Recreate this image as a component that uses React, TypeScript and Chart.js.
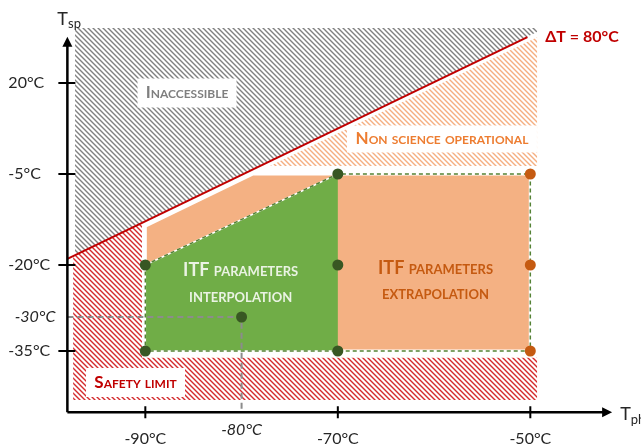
import { useEffect, useRef } from 'react';
import { Chart, registerables, LinearScale } from 'chart.js';

// ---------------- data (°C) ----------------
const X_TICKS = [-90, -70, -50];
const Y_TICKS = [20, -5, -20, -35];
const EXAMPLE_TICK_X = -80;
const EXAMPLE_TICK_Y = -30;

// operating points
const INTERP_PTS_X = [-90, -70, -70, -90, -70, -80];
const INTERP_PTS_Y = [-20, -5, -20, -35, -35, -30];
const EXTRAP_PTS_X = [-50, -50, -50];
const EXTRAP_PTS_Y = [-5, -20, -35];

// ΔT = 80°C limit line
const DT_LINE_X = [-98.1, -50.3];
const DT_LINE_Y = [-19.0, 32.6];

// regions
const INACCESSIBLE_X = [-97.3, -49.3, -49.3, -97.3];
const INACCESSIBLE_Y = [35.1, 35.1, 34.0, -18.4];
const SAFETY_X = [-97.5, -90.35, -90.35, -49.3, -49.3, -97.5];
const SAFETY_Y = [-18.5, -13.0, -36.0, -36.0, -42.2, -42.2];
const NON_SCIENCE_X = [-77.05, -49.3, -49.3];
const NON_SCIENCE_Y = [-2.8, 32.6, -2.8];
const EXTRAP_X = [-90, -78.8, -50, -50, -90];
const EXTRAP_Y = [-13.6, -5, -5, -35, -35];
const INTERP_X = [-90, -70, -70, -90];
const INTERP_Y = [-20, -5, -35, -35];
const ENVELOPE_X = [-90, -70, -50, -50, -90, -90];
const ENVELOPE_Y = [-20, -5, -5, -35, -35, -20];
const GUIDE_X = [-98.1, -80, -80];
const GUIDE_Y = [-30, -30, -44];

// axis extents
const AXIS_X_START = -98.1;
const AXIS_X_END = -41.5;
const AXIS_Y_START = -44;
const AXIS_Y_END = 32.7;

// ---------------- schematic (piecewise) y scale ----------------
const Y_BREAK_VALUES = [-50, -35, -30, -20, -5, 20, 45];
const Y_BREAK_FRAC = [453, 351, 317, 265, 174, 83, -8].map((p) => 1 - p / 446);

function toDecimal(v: number) {
  const V = Y_BREAK_VALUES, D = Y_BREAK_FRAC;
  let i = 0;
  while (i < V.length - 2 && v > V[i + 1]) i++;
  return D[i] + ((v - V[i]) / (V[i + 1] - V[i])) * (D[i + 1] - D[i]);
}
function fromDecimal(d: number) {
  const V = Y_BREAK_VALUES, D = Y_BREAK_FRAC;
  let i = 0;
  while (i < D.length - 2 && d > D[i + 1]) i++;
  return V[i] + ((d - D[i]) / (D[i + 1] - D[i])) * (V[i + 1] - V[i]);
}

class PiecewiseScale extends LinearScale {
  static id = 'piecewise';
  getPixelForValue(value: any) {
    if (value === null || value === undefined || isNaN(value)) return NaN;
    return this.getPixelForDecimal(toDecimal(+value));
  }
  getValueForPixel(pixel: number) {
    return fromDecimal(this.getDecimalForPixel(pixel));
  }
}

Chart.register(...registerables, PiecewiseScale as any);

const zip = (xs: number[], ys: number[]) => xs.map((x, i) => ({ x, y: ys[i] }));

function makeHatch(color: string) {
  const s = 5;
  const c = document.createElement('canvas');
  c.width = s;
  c.height = s;
  const g = c.getContext('2d')!;
  g.fillStyle = '#FFFFFF';
  g.fillRect(0, 0, s, s);
  g.strokeStyle = color;
  g.lineWidth = 1.4;
  g.beginPath();
  for (let k = -1; k <= 1; k++) {
    g.moveTo(-1, k * s - 1);
    g.lineTo(s + 1, s + k * s + 1);
  }
  g.stroke();
  return g.createPattern(c, 'repeat')!;
}

const FONT = 'Lato, "Open Sans", sans-serif';

export default function App() {
  const ref = useRef<HTMLCanvasElement | null>(null);

  useEffect(() => {
    const canvas = ref.current!;
    const grayHatch = makeHatch('#808080');
    const redHatch = makeHatch('#D42A2C');
    const orangeHatch = makeHatch('#F5AE80');

    const plugin = {
      id: 'schematic',
      beforeDatasetsDraw(chart: any) {
        const ctx = chart.ctx as CanvasRenderingContext2D;
        const xs = chart.scales.x, ys = chart.scales.y;
        const poly = (X: number[], Y: number[], fill: any, stroke?: string, lw?: number) => {
          ctx.beginPath();
          X.forEach((x, i) => {
            const px = xs.getPixelForValue(x), py = ys.getPixelForValue(Y[i]);
            if (i === 0) ctx.moveTo(px, py);
            else ctx.lineTo(px, py);
          });
          ctx.closePath();
          ctx.fillStyle = fill;
          ctx.fill();
          if (stroke) {
            ctx.strokeStyle = stroke;
            ctx.lineWidth = lw || 1;
            ctx.lineJoin = 'miter';
            ctx.stroke();
          }
        };
        ctx.save();
        poly(INACCESSIBLE_X, INACCESSIBLE_Y, grayHatch);
        poly(SAFETY_X, SAFETY_Y, redHatch);
        poly(NON_SCIENCE_X, NON_SCIENCE_Y, orangeHatch);
        poly(EXTRAP_X, EXTRAP_Y, '#F4B183', '#FFFFFF', 3);
        poly(INTERP_X, INTERP_Y, '#70AD47');
        ctx.restore();

        // boxed labels sit under the lines/points
        ctx.save();
        const box = (x: number, y: number, w: number, h: number) => {
          const px = xs.getPixelForValue(x), py = ys.getPixelForValue(y);
          ctx.fillStyle = '#FFFFFF';
          ctx.fillRect(px - w / 2, py - h / 2, w, h);
        };
        box(-85.67, 17.25, 99, 29);
        box(-59.18, 4.62, 190, 27);
        box(-91.02, -39.63, 99, 29);
        ctx.restore();
      },
      afterDatasetsDraw(chart: any) {
        const ctx = chart.ctx as CanvasRenderingContext2D & { fontVariantCaps?: string };
        const xs = chart.scales.x, ys = chart.scales.y;
        ctx.save();

        // axes
        const ox = xs.getPixelForValue(AXIS_X_START);
        const oy = ys.getPixelForValue(AXIS_Y_START);
        const ex = xs.getPixelForValue(AXIS_X_END);
        const ey = ys.getPixelForValue(AXIS_Y_END);
        ctx.strokeStyle = '#000000';
        ctx.fillStyle = '#000000';
        ctx.lineWidth = 2.5;
        ctx.beginPath();
        ctx.moveTo(ox, oy);
        ctx.lineTo(ex - 8, oy);
        ctx.moveTo(ox, oy);
        ctx.lineTo(ox, ey + 8);
        ctx.stroke();
        ctx.beginPath();
        ctx.moveTo(ex, oy);
        ctx.lineTo(ex - 10, oy - 5);
        ctx.lineTo(ex - 10, oy + 5);
        ctx.closePath();
        ctx.fill();
        ctx.beginPath();
        ctx.moveTo(ox, ey);
        ctx.lineTo(ox - 5, ey + 10);
        ctx.lineTo(ox + 5, ey + 10);
        ctx.closePath();
        ctx.fill();

        // ticks
        ctx.lineWidth = 2;
        ctx.beginPath();
        X_TICKS.forEach((v) => {
          const px = xs.getPixelForValue(v);
          ctx.moveTo(px, oy - 6);
          ctx.lineTo(px, oy + 6);
        });
        Y_TICKS.forEach((v) => {
          const py = ys.getPixelForValue(v);
          ctx.moveTo(ox - 9, py);
          ctx.lineTo(ox + 8, py);
        });
        ctx.stroke();

        // tick labels
        ctx.fillStyle = '#262626';
        ctx.font = `16px ${FONT}`;
        ctx.textBaseline = 'middle';
        ctx.textAlign = 'center';
        X_TICKS.forEach((v) => ctx.fillText(`${v}°C`, xs.getPixelForValue(v), oy + 27));
        ctx.textAlign = 'left';
        Y_TICKS.forEach((v) => ctx.fillText(`${v}°C`, ox - 59, ys.getPixelForValue(v)));
        ctx.font = `italic 16px ${FONT}`;
        ctx.textAlign = 'center';
        ctx.fillText(`${EXAMPLE_TICK_X}°C`, xs.getPixelForValue(EXAMPLE_TICK_X), oy + 18);
        ctx.textAlign = 'right';
        ctx.fillText(`${EXAMPLE_TICK_Y}°C`, ox - 12, ys.getPixelForValue(EXAMPLE_TICK_Y));

        // axis titles
        ctx.textAlign = 'left';
        ctx.textBaseline = 'alphabetic';
        ctx.font = `18px ${FONT}`;
        ctx.fillText('T', ox - 10, ey - 12);
        let w = ctx.measureText('T').width;
        ctx.font = `13px ${FONT}`;
        ctx.fillText('sp', ox - 10 + w, ey - 9);
        ctx.font = `18px ${FONT}`;
        ctx.fillText('T', ex + 8, oy + 8);
        w = ctx.measureText('T').width;
        ctx.font = `13px ${FONT}`;
        ctx.fillText('ph', ex + 8 + w, oy + 12);

        // region labels
        const label = (text: string, x: number, y: number, font: string, color: string, caps: boolean) => {
          ctx.font = font;
          ctx.fontVariantCaps = caps ? 'small-caps' : 'normal';
          ctx.fillStyle = color;
          ctx.textAlign = 'center';
          ctx.textBaseline = 'middle';
          ctx.fillText(text, xs.getPixelForValue(x), ys.getPixelForValue(y));
        };
        label('Inaccessible', -85.67, 17.25, `bold 17px ${FONT}`, '#7F7F7F', true);
        label('Non science operational', -59.18, 4.62, `bold 17px ${FONT}`, '#ED7D31', true);
        label('Safety limit', -91.02, -39.63, `bold 17px ${FONT}`, '#C00000', true);
        label('ITF parameters', -80.1, -20.96, `bold 18px ${FONT}`, '#EAF3E3', true);
        label('interpolation', -80.1, -25.96, `bold 18px ${FONT}`, '#EAF3E3', true);
        label('ITF parameters', -59.85, -20.58, `bold 18px ${FONT}`, '#C55A11', true);
        label('extrapolation', -59.85, -25.38, `bold 18px ${FONT}`, '#C55A11', true);
        label('ΔT = 80°C', -44.63, 32.64, `bold 16px ${FONT}`, '#C00000', false);
        ctx.fontVariantCaps = 'normal';
        ctx.restore();
      },
    };

    const chart = new Chart(canvas, {
      type: 'scatter',
      data: {
        datasets: [
          {
            label: 'Interpolation points',
            data: zip(INTERP_PTS_X, INTERP_PTS_Y),
            pointRadius: 5.5,
            pointBackgroundColor: '#385723',
            pointBorderColor: '#385723',
            pointBorderWidth: 0,
            showLine: false,
          },
          {
            label: 'Extrapolation points',
            data: zip(EXTRAP_PTS_X, EXTRAP_PTS_Y),
            pointRadius: 5.5,
            pointBackgroundColor: '#C55A11',
            pointBorderColor: '#C55A11',
            pointBorderWidth: 0,
            showLine: false,
          },
          {
            label: 'ΔT = 80°C',
            data: zip(DT_LINE_X, DT_LINE_Y),
            showLine: true,
            borderColor: '#C00000',
            borderWidth: 2,
            pointRadius: 0,
            fill: false,
          },
          {
            label: 'Guide',
            data: zip(GUIDE_X, GUIDE_Y),
            showLine: true,
            borderColor: '#8C8C8C',
            borderWidth: 2,
            borderDash: [6, 4],
            pointRadius: 0,
            fill: false,
          },
          {
            label: 'Envelope',
            data: zip(ENVELOPE_X, ENVELOPE_Y),
            showLine: true,
            borderColor: '#548235',
            borderWidth: 1.5,
            borderDash: [4, 3],
            pointRadius: 0,
            fill: false,
          },
          {
            label: 'Envelope base',
            data: zip(ENVELOPE_X, ENVELOPE_Y),
            showLine: true,
            borderColor: '#FFFFFF',
            borderWidth: 1.5,
            pointRadius: 0,
            fill: false,
          },
        ],
      },
      options: {
        responsive: false,
        animation: false,
        events: [],
        layout: { padding: 0, autoPadding: false },
        plugins: { legend: { display: false }, tooltip: { enabled: false }, title: { display: false } },
        scales: {
          x: { type: 'linear', min: -105.1, max: -38.5, display: false },
          y: { type: 'piecewise' as any, position: 'left', min: -50, max: 45, display: false },
        },
      },
      plugins: [plugin],
    } as any);

    return () => chart.destroy();
  }, []);

  return (
    <div style={{ position: 'absolute', left: 0, top: 0, width: 641, height: 446, background: '#FFFFFF' }}>
      <canvas ref={ref} width={641} height={446} style={{ display: 'block' }} />
    </div>
  );
}
